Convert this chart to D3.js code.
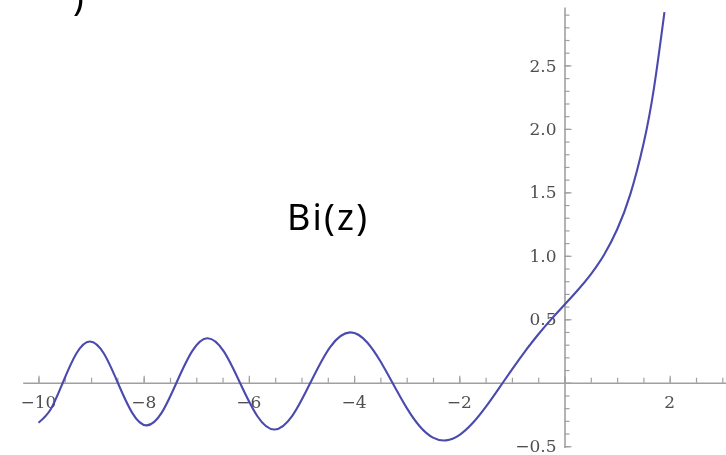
<!DOCTYPE html>
<html>
<head>
<meta charset="utf-8">
<script src="https://cdn.jsdelivr.net/npm/d3@7"></script>
<style>
  html, body { margin: 0; padding: 0; background: #fff; overflow: hidden; }
  svg { display: block; }
</style>
</head>
<body>
<svg id="chart" width="726" height="455"></svg>
<script>
// Airy function Bi(z) sampled along the real axis
const zValues = [
  -10, -9.77, -9.53819, -9.28, -9.02265, -8.757, -8.49195, -8.218, -7.94413, -7.66,
  -7.37676, -7.081, -6.78471, -6.477, -6.16985, -5.841, -5.5124, -5.172, -4.83074, -4.452,
  -4.07316, -3.75, -3.5, -3.27109, -3.0, -2.75, -2.5, -2.25, -2.0, -1.75,
  -1.5, -1.25, -1.0, -0.75, -0.5, -0.25, 0, 0.25, 0.5, 0.75,
  1.0, 1.25, 1.5, 1.7, 1.9
];
const biValues = [
  -0.3147, -0.2105, 0, 0.2301, 0.3254, 0.2303, 0, -0.2372, -0.3361, -0.2377,
  0, 0.2470, 0.3502, 0.2468, 0, -0.2619, -0.3680, -0.2587, 0, 0.2830,
  0.3965, 0.3171, 0.1688, 0, -0.1982, -0.3444, -0.4324, -0.4539, -0.4123, -0.3195,
  -0.1918, -0.0459, 0.1039, 0.2478, 0.3803, 0.5014, 0.6149, 0.7288, 0.8543, 1.0069,
  1.2074, 1.4844, 1.8789, 2.3194, 2.9192
];

// Axis ticks
const xMinorTicks = d3.range(-10, 3.01, 0.5);
const xMajorTicks = [-10, -8, -6, -4, -2, 0, 2];
const xTickLabels = [-10, -8, -6, -4, -2, 2];
const yMinorTicks = d3.range(-5, 30).map(d => d / 10);
const yMajorTicks = [-0.5, 0, 0.5, 1.0, 1.5, 2.0, 2.5];
const yTickLabels = [-0.5, 0.5, 1.0, 1.5, 2.0, 2.5];

const svg = d3.select("#chart");

// slight softening of the plotted graphics
svg.append("defs").append("filter")
  .attr("id", "soft")
  .attr("x", "-5%").attr("y", "-5%").attr("width", "110%").attr("height", "110%")
  .append("feGaussianBlur").attr("stdDeviation", 0.45);

const x = d3.scaleLinear().domain([-10.3, 3.07]).range([22.7, 726]);
const y = d3.scaleLinear().domain([-0.51, 2.96]).range([447.5, 7]);

const axisColor = "#a0a0a0";
const labelColor = "#505050";

const plot = svg.append("g").attr("filter", "url(#soft)");

// x axis through y = 0, ticks pointing up
const xAxisG = plot.append("g").attr("transform", `translate(0,${y(0)})`);
xAxisG.call(d3.axisTop(x).tickValues(xMinorTicks).tickSize(5).tickSizeOuter(0).tickFormat(""));
xAxisG.append("g").call(d3.axisTop(x).tickValues(xMajorTicks).tickSize(7).tickSizeOuter(0).tickFormat(""))
  .select(".domain").remove();
xAxisG.selectAll(".domain").attr("stroke", axisColor).attr("stroke-width", 1.6);
xAxisG.selectAll(".tick line").attr("stroke", axisColor).attr("stroke-width", 1.2);

// y axis through x = 0, ticks pointing right
const yAxisG = plot.append("g").attr("transform", `translate(${x(0)},0)`);
yAxisG.call(d3.axisRight(y).tickValues(yMinorTicks).tickSize(5).tickSizeOuter(0).tickFormat(""));
yAxisG.append("g").call(d3.axisRight(y).tickValues(yMajorTicks).tickSize(7).tickSizeOuter(0).tickFormat(""))
  .select(".domain").remove();
yAxisG.selectAll(".domain").attr("stroke", axisColor).attr("stroke-width", 1.6);
yAxisG.selectAll(".tick line").attr("stroke", axisColor).attr("stroke-width", 1.2);

// Tick labels
const fmtX = d3.format("d");
const fmtY = d3.format(".1f");
plot.append("g")
  .selectAll("text")
  .data(xTickLabels)
  .join("text")
  .attr("x", d => x(d))
  .attr("y", y(0) + 25)
  .attr("text-anchor", "middle")
  .attr("font-family", "DejaVu Serif, serif")
  .attr("font-size", 17)
  .attr("fill", labelColor)
  .text(d => fmtX(d));

plot.append("g")
  .selectAll("text")
  .data(yTickLabels)
  .join("text")
  .attr("x", x(0) - 8)
  .attr("y", d => y(d))
  .attr("dy", "0.36em")
  .attr("text-anchor", "end")
  .attr("font-family", "DejaVu Serif, serif")
  .attr("font-size", 17)
  .attr("fill", labelColor)
  .text(d => fmtY(d));

// Curve
const pts = zValues.map((z, i) => [z, biValues[i]]);
const line = d3.line()
  .x(d => x(d[0]))
  .y(d => y(d[1]))
  .curve(d3.curveNatural);

plot.append("path")
  .datum(pts)
  .attr("d", line)
  .attr("fill", "none")
  .attr("stroke", "#4a4aae")
  .attr("stroke-width", 2.1);

// Annotation text
svg.append("text")
  .attr("x", 287)
  .attr("y", 230)
  .attr("font-family", "Noto Sans, Open Sans, sans-serif")
  .attr("font-size", 36)
  .attr("textLength", 80)
  .attr("lengthAdjust", "spacing")
  .attr("fill", "#000")
  .text("Bi(z)");

svg.append("text")
  .attr("x", 73)
  .attr("y", 10)
  .attr("font-family", "Noto Sans, Open Sans, sans-serif")
  .attr("font-size", 36)
  .attr("fill", "#000")
  .text(")");
</script>
</body>
</html>
